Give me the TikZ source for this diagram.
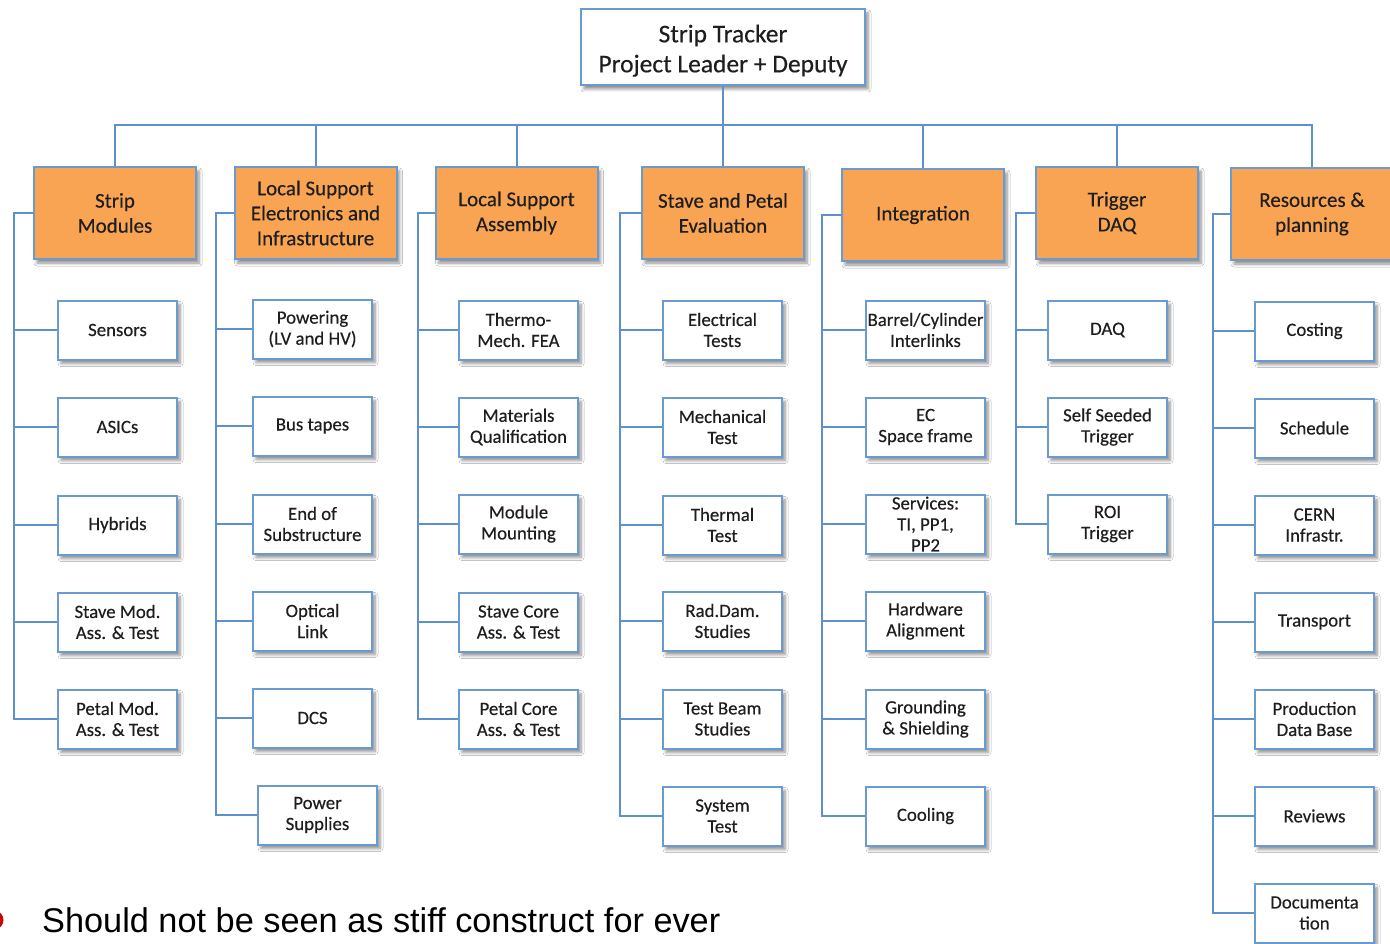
\documentclass[tikz,border=0pt]{standalone}
\usepackage{fontspec}
\setmainfont{Carlito}
\newfontfamily\calf[FakeBold=0.35]{Carlito}
\newfontfamily\arialf{Liberation Sans}
\usetikzlibrary{shadows,shadows.blur}
\definecolor{orng}{HTML}{F9A452}
\definecolor{bord}{HTML}{6A9AD3}
\definecolor{linec}{HTML}{5E90CE}
\definecolor{txt}{HTML}{1E1E1E}
\begin{document}
\begin{tikzpicture}[x=1pt,y=-1pt,
 box/.style={draw=bord, line width=2pt, align=center, inner sep=0pt, text=txt,
   blur shadow={shadow xshift=3pt, shadow yshift=-4pt, shadow blur steps=6, shadow blur radius=3pt, shadow opacity=45}},
 topbox/.style={box, fill=white, minimum width=284pt, minimum height=76pt, font=\calf\fontsize{25.5}{30}\selectfont},
 head/.style={box, fill=orng, minimum width=162pt, minimum height=92pt, font=\calf\fontsize{21}{25}\selectfont},
 leaf/.style={box, fill=white, minimum width=119pt, minimum height=59pt, font=\calf\fontsize{18.8}{21}\selectfont},
 conn/.style={draw=linec, line width=2pt}]
\useasboundingbox (0,0) rectangle (1390,944);
\fill[white] (0,0) rectangle (1390,944);

\node[topbox] (top) at (723,47) {\rule{0pt}{25pt}Strip Tracker\\Project Leader + Deputy};

\node[head] (g1) at (115,213) {Strip\\Modules};
\node[head] (g2) at (315.5,213) {Local Support\\Electronics and\\Infrastructure};
\node[head] (g3) at (516.5,213) {Local Support\\Assembly};
\node[head] (g4) at (723,213) {Stave and Petal\\Evaluation};
\node[head] (g5) at (923,215) {Integration};
\node[head] (g6) at (1117,213) {Trigger\\DAQ};
\node[head] (g7) at (1312,214) {Resources \&\\planning};

% group 1
\node[leaf] (a1) at (117.5,330) {Sensors};
\node[leaf] (a2) at (117.5,427) {ASICs};
\node[leaf] (a3) at (117.5,525) {Hybrids};
\node[leaf] (a4) at (117.5,622) {Stave Mod.\\Ass. \& Test};
\node[leaf] (a5) at (117.5,719) {Petal Mod.\\Ass. \& Test};
% group 2
\node[leaf] (b1) at (312.5,329) {Powering\\(LV and HV)};
\node[leaf] (b2) at (312.5,426) {Bus tapes};
\node[leaf] (b3) at (312.5,524) {End of\\Substructure};
\node[leaf] (b4) at (312.5,621) {Optical\\Link};
\node[leaf] (b5) at (312.5,718) {DCS};
\node[leaf] (b6) at (317.5,815) {Power\\Supplies};
% group 3
\node[leaf] (c1) at (518.5,330) {Thermo-\\Mech. FEA};
\node[leaf] (c2) at (518.5,427) {Materials\\Qualification};
\node[leaf] (c3) at (518.5,524) {Module\\Mounting};
\node[leaf] (c4) at (518.5,622) {Stave Core\\Ass. \& Test};
\node[leaf] (c5) at (518.5,719) {Petal Core\\Ass. \& Test};
% group 4
\node[leaf] (d1) at (722.5,330) {Electrical\\Tests};
\node[leaf] (d2) at (722.5,427) {Mechanical\\Test};
\node[leaf] (d3) at (722.5,525) {Thermal\\Test};
\node[leaf] (d4) at (722.5,621) {Rad.Dam.\\Studies};
\node[leaf] (d5) at (722.5,719) {Test Beam\\Studies};
\node[leaf] (d6) at (722.5,816) {System\\Test};
% group 5
\node[leaf] (e1) at (925.5,330) {Barrel/Cylinder\\Interlinks};
\node[leaf] (e2) at (925.5,427) {EC\\Space frame};
\node[leaf] (e3) at (925.5,524) {Services:\\TI, PP1,\\PP2};
\node[leaf] (e4) at (925.5,621) {Hardware\\Alignment};
\node[leaf] (e5) at (925.5,719) {Grounding\\\& Shielding};
\node[leaf] (e6) at (925.5,816) {Cooling};
% group 6
\node[leaf] (f1) at (1107.5,330) {DAQ};
\node[leaf] (f2) at (1107.5,427) {Self Seeded\\Trigger};
\node[leaf] (f3) at (1107.5,524) {ROI\\Trigger};
% group 7
\node[leaf] (h1) at (1314.5,331) {Costing};
\node[leaf] (h2) at (1314.5,428) {Schedule};
\node[leaf] (h3) at (1314.5,525) {CERN\\Infrastr.};
\node[leaf] (h4) at (1314.5,622) {Transport};
\node[leaf] (h5) at (1314.5,719) {Production\\Data Base};
\node[leaf] (h6) at (1314.5,816) {Reviews};
\node[leaf] (h7) at (1314.5,913) {Documenta\\tion};

% top bus
\foreach \g in {g1,g2,g3,g4,g5,g6,g7}
  \draw[conn] (top.south) -- ++(0,39) -| (\g.north);

% spines
\foreach \c in {a1,a2,a3,a4,a5} \draw[conn] (g1.west) -- ++(-19,0) |- (\c.west);
\foreach \c in {b1,b2,b3,b4,b5,b6} \draw[conn] (g2.west) -- ++(-18,0) |- (\c.west);
\foreach \c in {c1,c2,c3,c4,c5} \draw[conn] (g3.west) -- ++(-17,0) |- (\c.west);
\foreach \c in {d1,d2,d3,d4,d5,d6} \draw[conn] (g4.west) -- ++(-21,0) |- (\c.west);
\foreach \c in {e1,e2,e3,e4,e5,e6} \draw[conn] (g5.west) -- ++(-19,0) |- (\c.west);
\foreach \c in {f1,f2,f3} \draw[conn] (g6.west) -- ++(-19,0) |- (\c.west);
\foreach \c in {h1,h2,h3,h4,h5,h6,h7} \draw[conn] (g7.west) -- ++(-17,0) |- (\c.west);

% note
\fill[red!80!black] (-6,920) circle (9.5);
\node[anchor=base west, inner sep=0pt, text=black, font=\arialf\fontsize{34.3}{40}\selectfont] (note) at (42,932) {Should not be seen as stiff construct for ever};
\end{tikzpicture}
\end{document}
